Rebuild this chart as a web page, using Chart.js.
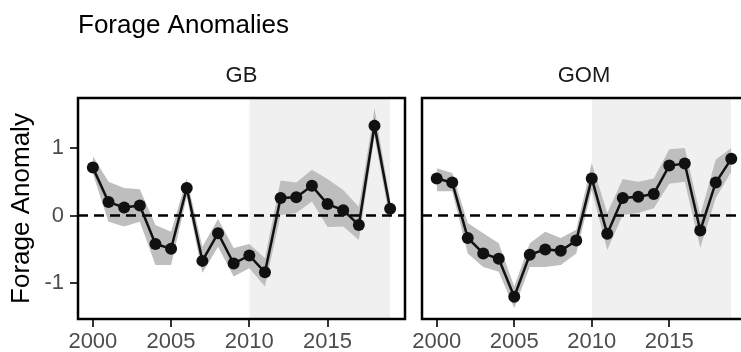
<!DOCTYPE html>
<html>
<head>
<meta charset="utf-8">
<script src="https://cdn.jsdelivr.net/npm/chart.js@4"></script>
<style>
  html, body { margin: 0; padding: 0; width: 741px; height: 352px; overflow: hidden; background: #fff; }
  canvas { position: absolute; top: 0; }
  #gbChart { left: 0; }
  #gomChart { left: 408px; }
</style>
</head>
<body>
<canvas id="gbChart" width="412" height="352"></canvas>
<canvas id="gomChart" width="344" height="352"></canvas>
<script>
const years = [2000, 2001, 2002, 2003, 2004, 2005, 2006, 2007, 2008, 2009,
  2010, 2011, 2012, 2013, 2014, 2015, 2016, 2017, 2018, 2019];

const gbValues = [0.71, 0.20, 0.12, 0.15, -0.42, -0.49, 0.41, -0.67, -0.26, -0.71,
  -0.59, -0.84, 0.26, 0.27, 0.44, 0.17, 0.08, -0.14, 1.33, 0.10];
const gbUpper = [0.88, 0.50, 0.41, 0.39, -0.14, -0.24, 0.55, -0.46, -0.05, -0.48,
  -0.42, -0.63, 0.52, 0.49, 0.68, 0.54, 0.38, 0.13, 1.59, 0.23];
const gbLower = [0.62, -0.09, -0.16, -0.09, -0.73, -0.73, 0.28, -0.85, -0.46, -0.90,
  -0.78, -1.05, 0.01, 0.04, 0.21, -0.17, -0.16, -0.36, 1.17, -0.09];

const gomValues = [0.55, 0.49, -0.33, -0.56, -0.64, -1.20, -0.58, -0.50, -0.52, -0.37,
  0.55, -0.27, 0.26, 0.28, 0.32, 0.74, 0.77, -0.22, 0.49, 0.84];
const gomUpper = [0.70, 0.63, -0.11, -0.26, -0.41, -1.05, -0.41, -0.24, -0.33, -0.21,
  0.78, 0.04, 0.54, 0.50, 0.55, 0.98, 1.00, 0.01, 0.83, 1.00];
const gomLower = [0.36, 0.36, -0.56, -0.76, -0.83, -1.37, -0.76, -0.76, -0.73, -0.56,
  0.38, -0.51, 0.01, 0.04, 0.11, 0.47, 0.50, -0.48, 0.26, 0.65];

const xTicks = [2000, 2005, 2010, 2015];
const yTicks = [-1, 0, 1];
const shadeYears = [2010, 2019];

const xMin = 1999.05, xMax = 2019.95;
const yMin = -1.53, yMax = 1.74;

Chart.defaults.font.family = "'Liberation Sans', Arial, sans-serif";

const toPoints = (vals) => years.map((yr, i) => ({ x: yr, y: vals[i] }));

// titles, strip labels and the panel box
const panelText = {
  id: "panelText",
  afterDraw(chart, args, opts) {
    const { ctx, chartArea } = chart;
    ctx.save();
    ctx.lineWidth = 2.5;
    ctx.strokeStyle = "#000";
    ctx.strokeRect(chartArea.left, chartArea.top, chartArea.right - chartArea.left, chartArea.bottom - chartArea.top);
    ctx.textBaseline = "alphabetic";
    if (opts.title) {
      ctx.fillStyle = "#000";
      ctx.font = "26px 'Liberation Sans', Arial, sans-serif";
      ctx.textAlign = "left";
      ctx.fillText(opts.title, chartArea.left, 33);
    }
    ctx.fillStyle = "#1a1a1a";
    ctx.font = "22px 'Liberation Sans', Arial, sans-serif";
    ctx.textAlign = "center";
    ctx.fillText(opts.strip, (chartArea.left + chartArea.right) / 2, 82);
    ctx.restore();
  },
};

const makePanel = (id, values, upper, lower, opts) => {
  const ctx = document.getElementById(id).getContext("2d");
  return new Chart(ctx, {
    type: "line",
    data: {
      datasets: [
        {
          data: shadeYears.map((yr) => ({ x: yr, y: yMax })),
          fill: "start",
          backgroundColor: "#f0f0f0",
          borderWidth: 0,
          pointRadius: 0,
          order: 10,
        },
        {
          data: toPoints(upper),
          fill: "+1",
          backgroundColor: "#bebebe",
          borderWidth: 0,
          pointRadius: 0,
          order: 6,
        },
        {
          data: toPoints(lower),
          fill: false,
          borderWidth: 0,
          pointRadius: 0,
          order: 5,
        },
        {
          data: [{ x: xMin, y: 0 }, { x: xMax, y: 0 }],
          borderColor: "#000",
          borderWidth: 2.5,
          borderDash: [10, 6],
          pointRadius: 0,
          fill: false,
          order: 3,
        },
        {
          data: toPoints(values),
          borderColor: "#111",
          borderWidth: 2.5,
          pointRadius: 6,
          pointBackgroundColor: "#111",
          pointBorderWidth: 0,
          fill: false,
          tension: 0,
          order: 1,
        },
      ],
    },
    options: {
      responsive: false,
      animation: false,
      layout: { padding: opts.padding },
      plugins: {
        legend: { display: false },
        tooltip: { enabled: false },
        panelText: { strip: opts.strip, title: opts.title },
      },
      scales: {
        x: {
          type: "linear",
          min: xMin,
          max: xMax,
          afterBuildTicks: (s) => { s.ticks = xTicks.map((v) => ({ value: v })); },
          afterFit: (s) => { s.height = 33; },
          grid: { drawOnChartArea: false, drawTicks: true, tickLength: 8, color: "#333", lineWidth: 2 },
          border: { display: false },
          ticks: {
            autoSkip: false,
            maxRotation: 0,
            padding: 2,
            color: "#4d4d4d",
            font: { size: 22 },
            callback: (v) => String(v),
          },
        },
        y: {
          display: opts.showY,
          min: yMin,
          max: yMax,
          afterBuildTicks: (s) => { s.ticks = yTicks.map((v) => ({ value: v })); },
          afterFit: (s) => { s.width = opts.showY ? 78 : 0; },
          grid: { drawOnChartArea: false, drawTicks: true, tickLength: 8, color: "#333", lineWidth: 2 },
          border: { display: false },
          ticks: {
            padding: 6,
            color: "#4d4d4d",
            font: { size: 22 },
            callback: (v) => String(v),
          },
          title: {
            display: true,
            text: "Forage Anomaly",
            color: "#000",
            font: { size: 26 },
            padding: { top: 6, bottom: 0 },
          },
        },
      },
    },
    plugins: [panelText],
  });
};

makePanel("gbChart", gbValues, gbUpper, gbLower, {
  strip: "GB",
  title: "Forage Anomalies",
  showY: true,
  padding: { top: 98, left: 0, right: 7, bottom: 0 },
});

makePanel("gomChart", gomValues, gomUpper, gomLower, {
  strip: "GOM",
  title: null,
  showY: false,
  padding: { top: 98, left: 14, right: 3, bottom: 0 },
});
</script>
</body>
</html>
